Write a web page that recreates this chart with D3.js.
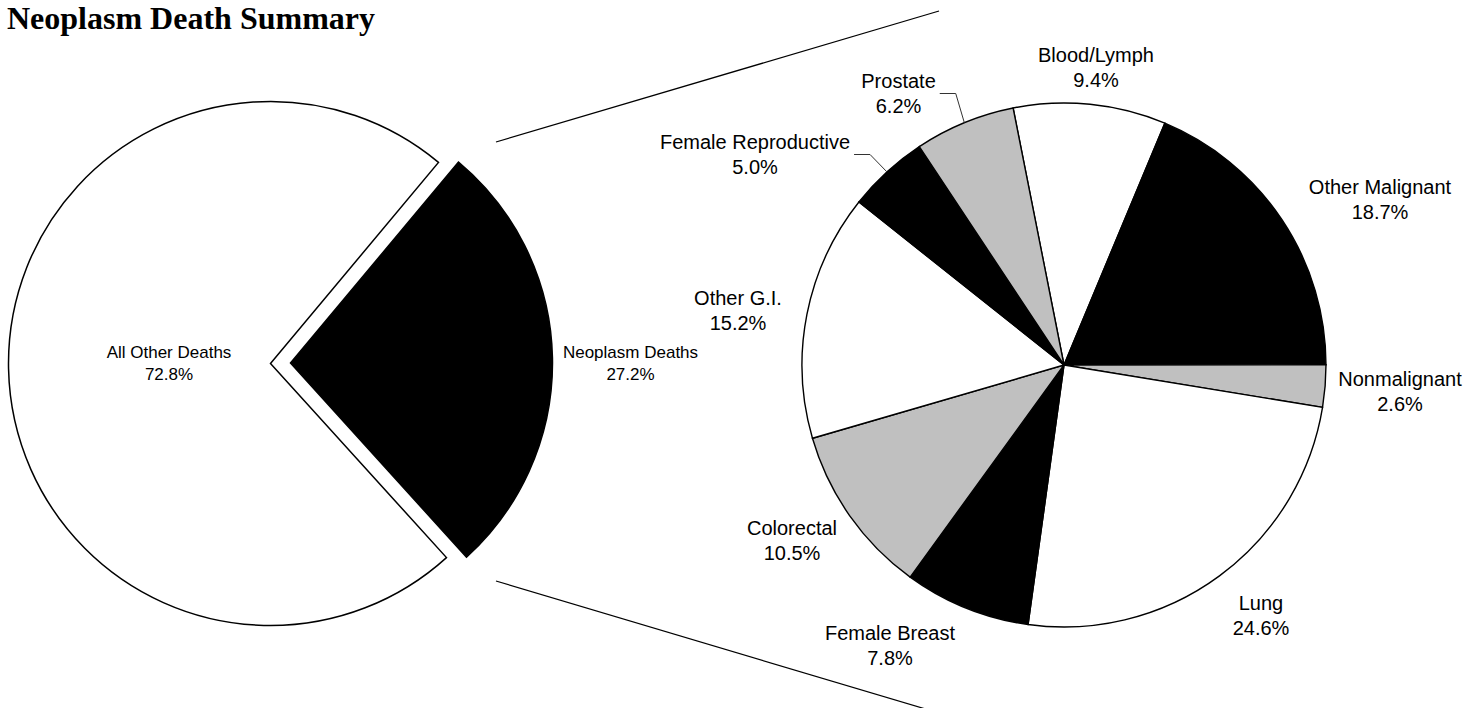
<!DOCTYPE html>
<html>
<head>
<meta charset="utf-8">
<script src="https://d3js.org/d3.v7.min.js"></script>
<style>
  body { margin: 0; background: #fff; }
  text { font-family: "Liberation Sans", Arial, sans-serif; fill: #000; }
  .title { font-family: "Liberation Serif", "Times New Roman", serif; font-weight: bold; font-size: 32px; }
</style>
</head>
<body>
<div id="chart"></div>
<script>
// Data
var summaryCategories = ["All Other Deaths", "Neoplasm Deaths"];
var summaryValues = [72.8, 27.2];

var detailCategories = ["Blood/Lymph", "Other Malignant", "Nonmalignant", "Lung", "Female Breast",
                        "Colorectal", "Other G.I.", "Female Reproductive", "Prostate"];
var detailValues = [9.4, 18.7, 2.6, 24.6, 7.8, 10.5, 15.2, 5.0, 6.2];

// set the dimensions of the page
var width = 1482,
    height = 708,
    radius = 262,
    deg = Math.PI / 180;

var leftCenter = [270.5, 363.5],
    rightCenter = [1064, 365],
    explode = 20;

// label block centres, relative to the pie centre
var leftLabelAt = {
  "All Other Deaths": [-101.5, -1],
  "Neoplasm Deaths": [360, -1]
};
var rightLabelAt = {
  "Blood/Lymph": [32, -297.5],
  "Other Malignant": [316, -166],
  "Nonmalignant": [336, 26.5],
  "Lung": [197, 250.5],
  "Female Breast": [-174, 280.5],
  "Colorectal": [-272, 175.5],
  "Other G.I.": [-326, -55],
  "Female Reproductive": [-309, -210.5],
  "Prostate": [-165.5, -271.5]
};
var withLeader = ["Female Reproductive", "Prostate"];

var leftFills = ["#ffffff", "#000000"];
var rightFills = ["#ffffff", "#000000", "#c0c0c0"];

var svg = d3.select("#chart")
  .append("svg")
    .attr("width", width)
    .attr("height", height);

// Title
svg.append("text")
  .attr("class", "title")
  .attr("x", 7)
  .attr("y", 28.5)
  .text("Neoplasm Death Summary");

var arc = d3.arc().innerRadius(0).outerRadius(radius);
var arcEdge = d3.arc().innerRadius(radius).outerRadius(radius);

// two-line label: name + percent, centred on pos
function addLabel(g, name, value, pos, size, lineGap) {
  var t = g.append("text")
    .attr("text-anchor", "middle")
    .style("font-size", size + "px")
    .attr("x", pos[0])
    .attr("y", pos[1] - lineGap / 2 + size * 0.36);
  t.append("tspan").attr("x", pos[0]).text(name);
  t.append("tspan").attr("x", pos[0]).attr("dy", lineGap).text(d3.format(".1f")(value) + "%");
  return t;
}

// ---- Left pie ----
var leftPie = d3.pie().sort(null)
  .startAngle(137.8 * deg)
  .endAngle(137.8 * deg + 2 * Math.PI);
var leftData = leftPie(summaryValues);

var gl = svg.append("g")
  .attr("transform", "translate(" + leftCenter[0] + "," + leftCenter[1] + ")");

gl.selectAll("path")
  .data(leftData)
  .enter()
  .append("path")
    .attr("d", arc)
    .attr("transform", function(d, i) {
      if (i === 0) return null;
      var a = (d.startAngle + d.endAngle) / 2;
      return "translate(" + (explode * Math.sin(a)) + "," + (-explode * Math.cos(a)) + ")";
    })
    .attr("fill", function(d, i) { return leftFills[i]; })
    .attr("stroke", "#000")
    .attr("stroke-width", 1.5)
    .attr("stroke-linejoin", "miter");

leftData.forEach(function(d, i) {
  addLabel(gl, summaryCategories[i], summaryValues[i], leftLabelAt[summaryCategories[i]], 17, 22);
});

// connector lines from the exploded slice to the detail pie
var connectors = [
  [[leftCenter[0] + 225.5, leftCenter[1] - 221.5], [rightCenter[0] - 125, rightCenter[1] - 354]],
  [[leftCenter[0] + 225.5, leftCenter[1] + 217.5], [rightCenter[0] - 125, rightCenter[1] + 348]]
];
svg.selectAll("line.conn")
  .data(connectors)
  .enter()
  .append("line")
    .attr("class", "conn")
    .attr("x1", function(d) { return d[0][0]; })
    .attr("y1", function(d) { return d[0][1]; })
    .attr("x2", function(d) { return d[1][0]; })
    .attr("y2", function(d) { return d[1][1]; })
    .attr("stroke", "#000")
    .attr("stroke-width", 1.2);

// ---- Right pie ----
var rightPie = d3.pie().sort(null)
  .startAngle(-11.2 * deg)
  .endAngle(-11.2 * deg + 2 * Math.PI);
var rightData = rightPie(detailValues);

var gr = svg.append("g")
  .attr("transform", "translate(" + rightCenter[0] + "," + rightCenter[1] + ")");

gr.selectAll("path")
  .data(rightData)
  .enter()
  .append("path")
    .attr("d", arc)
    .attr("fill", function(d, i) { return rightFills[i % 3]; })
    .attr("stroke", "#000")
    .attr("stroke-width", 1.4);

rightData.forEach(function(d, i) {
  var name = detailCategories[i];
  var pos = rightLabelAt[name];
  var t = addLabel(gr, name, detailValues[i], pos, 20, 25);
  if (withLeader.indexOf(name) >= 0) {
    var w = t.select("tspan").node().getComputedTextLength();
    var x0 = pos[0] + w / 2 + 4;
    var edge = arcEdge.centroid(d);
    gr.append("polyline")
      .attr("points", [[x0, pos[1]], [x0 + 16, pos[1]], edge].map(function(p) { return p.join(","); }).join(" "))
      .attr("fill", "none")
      .attr("stroke", "#333")
      .attr("stroke-width", 1);
  }
});
</script>
</body>
</html>
